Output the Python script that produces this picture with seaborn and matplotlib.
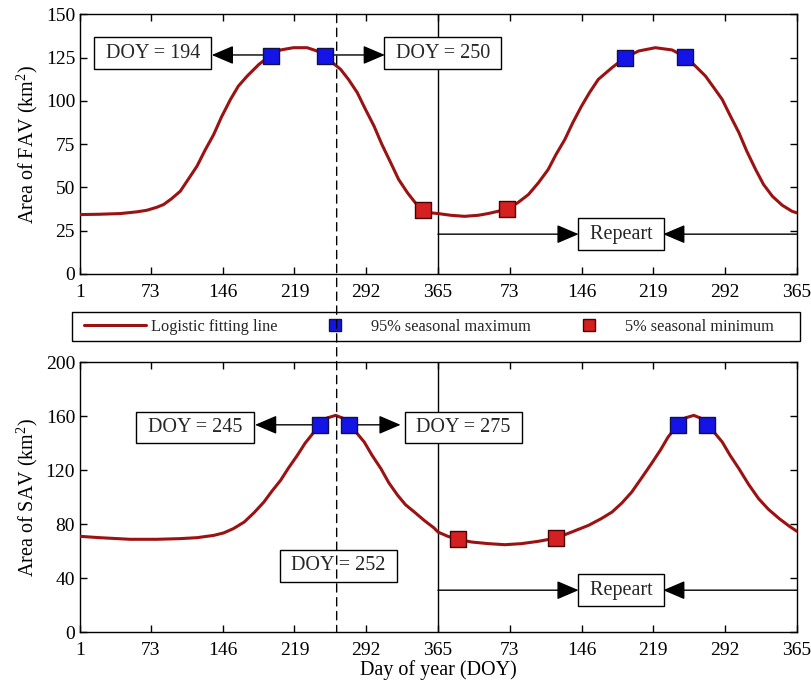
import numpy as np
import pandas as pd
import matplotlib
matplotlib.use("Agg")
import matplotlib.pyplot as plt
import seaborn as sns
from matplotlib.lines import Line2D
from matplotlib.patches import ConnectionPatch, Rectangle

# fitted curves, two years in a row (day 1..730)
fav_days = [1, 21, 42, 59, 69, 79, 86, 94, 103, 111, 120, 128, 137, 145, 154, 162, 171, 183,
            195, 205, 218, 232, 242, 250, 257, 266, 274, 283, 291, 300, 308, 317, 325, 334,
            342, 350, 358,
            365, 378, 392, 406, 416, 426, 435, 446, 457, 467, 477, 485, 494, 502, 511, 519,
            528, 542, 555, 569, 586, 603, 616, 626, 637, 645, 654, 662, 671, 679, 688, 696,
            705, 715, 725, 730]
fav_area = [34.3, 34.5, 34.9, 35.9, 36.8, 38.5, 40.1, 43.4, 47.8, 54.6, 62.3, 71.3, 80.6, 90.8,
            100.8, 108.5, 114.3, 121.1, 126.3, 129.4, 130.7, 130.7, 128.8, 125.9, 122.4, 118.2,
            112.4, 104.7, 95.4, 85.4, 74.8, 64.2, 54.6, 46.9, 41.1, 37.2, 35.3,
            34.9, 33.9, 33.3, 33.9, 34.9, 36.2, 37.6, 41.1, 45.9, 52.6, 60.3, 69.0, 77.7, 87.3,
            97.0, 104.7, 112.4, 119.2, 124.9, 128.8, 130.7, 129.4, 125.5, 120.5, 114.3, 108.0,
            100.8, 91.6, 81.6, 70.9, 60.3, 51.7, 44.9, 39.7, 36.2, 35.3]

sav_days = [1, 21, 52, 79, 103, 120, 137, 147, 157, 168, 178, 188, 196, 205, 213, 222, 230,
            239, 245, 252, 261, 268, 275, 283, 290, 298, 307, 315, 324, 332, 341, 351, 361,
            365, 375, 385, 399, 416, 433, 450, 467, 485, 501, 518, 531, 542, 552, 562, 572,
            582, 591, 599, 609, 616, 625, 632, 639, 647, 654, 662, 671, 681, 691, 701, 712,
            722, 730]
sav_area = [70.9, 69.9, 68.7, 68.7, 69.2, 69.9, 71.6, 73.4, 76.6, 81.5, 88.4, 96.3, 104.2,
            112.4, 121.5, 130.9, 140.0, 148.2, 153.6, 158.5, 160.5, 158.5, 153.6, 146.9, 140.8,
            130.9, 121.0, 110.6, 101.3, 94.3, 88.9, 82.7, 77.1,
            74.1, 70.9, 68.7, 66.7, 65.5, 64.7, 65.5, 67.2, 69.6, 74.1, 79.0, 84.0, 88.9, 95.6,
            103.7, 114.1, 124.7, 134.6, 144.5, 153.6, 158.5, 160.5, 158.5, 153.6, 146.9, 140.8,
            130.9, 121.0, 109.2, 98.8, 90.9, 84.0, 78.5, 74.6]

# seasonal max / min points
fav_max_days = [195, 250, 555, 616]
fav_max_area = [126.0, 125.9, 124.9, 125.5]
fav_min_days = [350, 435]
fav_min_area = [37.2, 37.6]
sav_max_days = [245, 275, 609, 639]
sav_max_area = [153.6, 153.6, 153.6, 153.6]
sav_min_days = [385, 485]
sav_min_area = [68.7, 69.6]

xticks = [1, 73, 146, 219, 292, 365, 438, 511, 584, 657, 730]
xticklabels = ["1", "73", "146", "219", "292", "365", "73", "146", "219", "292", "365"]
peak_line_day = 262

sns.set_theme(style="ticks")
plt.rcParams["font.family"] = ["Liberation Serif", "DejaVu Serif"]
plt.rcParams["mathtext.default"] = "regular"

line_col = "#9B1212"
blue = "#1414E6"
red = "#D42020"

fig = plt.figure(figsize=(8.11, 6.87), dpi=100)
ax1 = fig.add_axes([0.0986, 0.6012, 0.8841, 0.378])
ax2 = fig.add_axes([0.0986, 0.0800, 0.8841, 0.393])

fav = pd.DataFrame({"day": fav_days, "area": fav_area})
sav = pd.DataFrame({"day": sav_days, "area": sav_area})

box = dict(boxstyle="square,pad=0.32", fc="white", ec="black", lw=1)
arr = dict(arrowstyle="-|>,head_length=0.75,head_width=0.32", color="black", lw=1,
           shrinkA=0, shrinkB=0, mutation_scale=18)


def panel(ax, df, mx_d, mx_a, mn_d, mn_a, ymax, ystep, ylabel):
    sns.lineplot(data=df, x="day", y="area", ax=ax, color=line_col, lw=2.2, zorder=3)
    sns.scatterplot(x=mx_d, y=mx_a, ax=ax, marker="s", s=120, color=blue,
                    edgecolor="#10104a", linewidth=1, zorder=5)
    sns.scatterplot(x=mn_d, y=mn_a, ax=ax, marker="s", s=120, color=red,
                    edgecolor="#4a0000", linewidth=1, zorder=5)
    ax.axvline(365, color="black", lw=1, zorder=2)
    ax.set_xlim(1, 730)
    ax.set_ylim(0, ymax)
    ax.set_xticks(xticks)
    ax.set_xticklabels(xticklabels)
    ax.set_yticks(np.arange(0, ymax + 1, ystep))
    ax.tick_params(direction="in", top=True, right=True, labelsize=14, length=5,
                   width=1, color="black", labelcolor="black")
    ax.tick_params(axis="x", pad=7)
    for s in ax.spines.values():
        s.set_color("black")
        s.set_linewidth(1)
    ax.set_xlabel("")
    ax.set_ylabel(ylabel, fontsize=14.5, color="black")


panel(ax1, fav, fav_max_days, fav_max_area, fav_min_days, fav_min_area, 150, 25,
      "Area of FAV (km$^{2}$)")
panel(ax2, sav, sav_max_days, sav_max_area, sav_min_days, sav_min_area, 200, 40,
      "Area of SAV (km$^{2}$)")
ax2.set_xlabel("Day of year (DOY)", fontsize=14.5, color="black", labelpad=1)

# top panel annotations
ax1.annotate("", xy=(135, 126.5), xytext=(195, 126.5), arrowprops=arr)
ax1.annotate("", xy=(311, 126.5), xytext=(250, 126.5), arrowprops=arr)
ax1.text(75, 127.5, " DOY = 194 ", ha="center", va="center", fontsize=14.5, bbox=box)
ax1.text(370, 127.5, " DOY = 250 ", ha="center", va="center", fontsize=14.5, bbox=box)
ax1.annotate("", xy=(508, 23), xytext=(365, 23), arrowprops=arr)
ax1.annotate("", xy=(594, 23), xytext=(730, 23), arrowprops=arr)
ax1.text(551, 23, " Repeart ", ha="center", va="center", fontsize=14.5, bbox=box)

# bottom panel annotations
ax2.annotate("", xy=(179, 153.5), xytext=(245, 153.5), arrowprops=arr)
ax2.annotate("", xy=(327, 153.5), xytext=(275, 153.5), arrowprops=arr)
ax2.text(118, 151.5, " DOY = 245 ", ha="center", va="center", fontsize=14.5, bbox=box)
ax2.text(391, 151.5, " DOY = 275 ", ha="center", va="center", fontsize=14.5, bbox=box)
ax2.text(264, 49, " DOY = 252 ", ha="center", va="center", fontsize=14.5, bbox=box, zorder=1)
ax2.annotate("", xy=(508, 31), xytext=(365, 31), arrowprops=arr)
ax2.annotate("", xy=(594, 31), xytext=(730, 31), arrowprops=arr)
ax2.text(551, 31, " Repeart ", ha="center", va="center", fontsize=14.5, bbox=box)

# dashed line through both panels
con = ConnectionPatch(xyA=(peak_line_day, 150), coordsA=ax1.transData,
                      xyB=(peak_line_day, 0), coordsB=ax2.transData,
                      color="black", lw=1, linestyle=(0, (6, 4)), zorder=6)
fig.add_artist(con)

# legend strip between the panels
fig.add_artist(Rectangle((0.0888, 0.5036), 0.8977, 0.0422, transform=fig.transFigure,
                         fc="white", ec="black", lw=1, zorder=4))
handles = [Line2D([], [], color=line_col, lw=2.2),
           Line2D([], [], ls="", marker="s", ms=9, mfc=blue, mec="#10104a"),
           Line2D([], [], ls="", marker="s", ms=9, mfc=red, mec="#4a0000")]
labels = ["Logistic fitting line", "95% seasonal maximum", "5% seasonal minimum"]
leg = fig.legend(handles, labels, loc="center left", ncol=3,
                 bbox_to_anchor=(0.0957, 0.5247), borderaxespad=0, frameon=False,
                 handlelength=3.8, handletextpad=0.3, columnspacing=1.6, fontsize=11.8)
leg.set_zorder(5)

fig.savefig("out.png", dpi=100)
